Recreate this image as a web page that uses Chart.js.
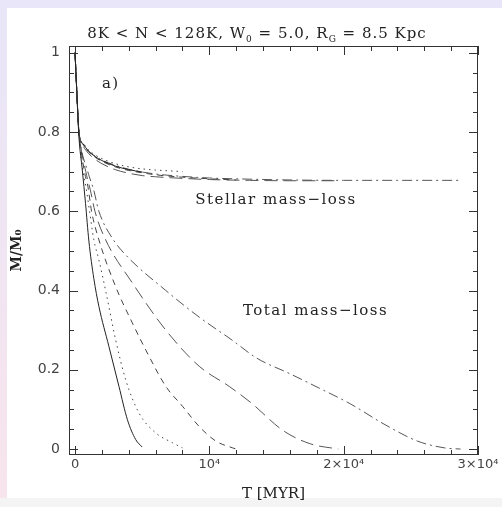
<!DOCTYPE html>
<html>
<head>
<meta charset="utf-8">
<script src="https://cdn.jsdelivr.net/npm/chart.js@4/dist/chart.umd.min.js"></script>
<style>
body { margin: 0; background: #fff; }
#wrap { position: relative; width: 502px; height: 507px; overflow: hidden; background: #fff; }
#stripTop { position: absolute; left: 0; top: 0; width: 502px; height: 8px; background: #e8e6f8; }
#stripLeft { position: absolute; left: 0; top: 0; width: 7px; height: 507px; background: linear-gradient(#e8e6f8, #f8e4ec); }
#stripBot { position: absolute; left: 0; top: 498px; width: 502px; height: 9px; background: #f4f4f4; }
canvas { position: absolute; left: 0; top: 0; }
</style>
</head>
<body>
<div id="wrap">
  <div id="stripTop"></div>
  <div id="stripLeft"></div>
  <div id="stripBot"></div>
  <canvas id="grafico" width="502" height="507"></canvas>
</div>
<script>
// total mass-loss (time in Myr, M/M0)
const tTotSolid = [0, 100, 200, 285, 540, 780, 1030, 1400, 1776, 2520, 3270, 3900, 4515, 5000];
const mTotSolid = [1, 0.925, 0.85, 0.79, 0.704, 0.62, 0.525, 0.43, 0.36, 0.259, 0.158, 0.074, 0.024, 0.005];
const tTotDotted = [0, 100, 200, 300, 600, 810, 1080, 1400, 1776, 2276, 3020, 3770, 4760, 6000, 7250, 8000];
const mTotDotted = [1, 0.925, 0.85, 0.795, 0.70, 0.662, 0.60, 0.528, 0.477, 0.40, 0.276, 0.175, 0.091, 0.041, 0.016, 0.003];
const tTotDashed = [0, 100, 200, 300, 700, 960, 1230, 1776, 3020, 4270, 5510, 6760, 8000, 9240, 10490, 11730, 12000];
const mTotDashed = [1, 0.925, 0.85, 0.8, 0.70, 0.662, 0.60, 0.528, 0.41, 0.318, 0.234, 0.158, 0.108, 0.057, 0.02, 0.003, 0];
const tTotLong = [0, 100, 200, 300, 800, 1130, 1480, 2276, 4270, 6760, 9240, 11480, 13060, 15520, 17540, 19600];
const mTotLong = [1, 0.925, 0.85, 0.8, 0.70, 0.655, 0.60, 0.528, 0.419, 0.30, 0.209, 0.158, 0.118, 0.046, 0.013, 0];
const tTotDashDot = [0, 100, 200, 300, 950, 1380, 1776, 2776, 3850, 6760, 9240, 11730, 13500, 16000, 18100, 20500, 23000, 25500, 27500, 28700];
const mTotDashDot = [1, 0.925, 0.85, 0.8, 0.70, 0.655, 0.60, 0.532, 0.487, 0.40, 0.333, 0.274, 0.23, 0.19, 0.155, 0.114, 0.063, 0.02, 0.003, 0];

// stellar mass-loss only
const tStarSolid = [0, 100, 200, 300, 600, 1000, 1500, 2000, 3000, 4000, 5000];
const mStarSolid = [1, 0.925, 0.85, 0.795, 0.77, 0.752, 0.738, 0.728, 0.714, 0.705, 0.699];
const tStarDotted = [0, 100, 200, 300, 600, 1000, 1500, 2000, 3000, 4000, 5000, 6000, 7000, 8000];
const mStarDotted = [1, 0.925, 0.85, 0.795, 0.772, 0.755, 0.742, 0.733, 0.72, 0.712, 0.707, 0.704, 0.702, 0.70];
const tStarDashed = [0, 100, 200, 300, 600, 1000, 1500, 2000, 3000, 4000, 5000, 6000, 8000, 10000, 12000];
const mStarDashed = [1, 0.925, 0.85, 0.795, 0.768, 0.75, 0.736, 0.726, 0.712, 0.703, 0.697, 0.692, 0.686, 0.682, 0.679];
const tStarLong = [0, 100, 200, 300, 600, 1000, 1500, 2000, 3000, 4000, 5000, 6000, 8000, 10000, 13000, 16000, 19600];
const mStarLong = [1, 0.925, 0.85, 0.795, 0.765, 0.746, 0.731, 0.72, 0.705, 0.696, 0.69, 0.687, 0.683, 0.68, 0.678, 0.677, 0.677];
const tStarDashDot = [0, 100, 200, 300, 600, 1000, 1500, 2000, 3000, 4000, 5000, 6000, 8000, 10000, 13000, 16000, 20000, 24000, 28700];
const mStarDashDot = [1, 0.925, 0.85, 0.795, 0.77, 0.752, 0.739, 0.729, 0.716, 0.706, 0.699, 0.694, 0.688, 0.684, 0.681, 0.679, 0.678, 0.678, 0.678];

const xTickValues = [0, 10000, 20000, 30000];
const xTickLabels = ["0", "10\u2074", "2\u00d710\u2074", "3\u00d710\u2074"];
const yTickValues = [0, 0.2, 0.4, 0.6, 0.8, 1];
const yTickLabels = ["0", "0.2", "0.4", "0.6", "0.8", "1"];

function pontos(t, m) {
    return t.map((v, i) => ({ x: v, y: m[i] }));
}

const tracos = [[], [1.5, 4], [6, 5], [13, 6], [10, 4, 2, 4]];
const cores = ["#222", "#444", "#444", "#555", "#555"];

const series = [
    [tTotSolid, mTotSolid, 0], [tTotDotted, mTotDotted, 1], [tTotDashed, mTotDashed, 2],
    [tTotLong, mTotLong, 3], [tTotDashDot, mTotDashDot, 4],
    [tStarSolid, mStarSolid, 0], [tStarDotted, mStarDotted, 1], [tStarDashed, mStarDashed, 2],
    [tStarLong, mStarLong, 3], [tStarDashDot, mStarDashDot, 4],
];

const datasets = series.map(([t, m, s]) => ({
    data: pontos(t, m),
    showLine: true,
    pointRadius: 0,
    borderWidth: 1,
    borderColor: cores[s],
    borderDash: tracos[s],
    cubicInterpolationMode: "monotone",
}));

const serif = "'DejaVu Serif', serif";

// frame + inward ticks on all four sides
const molduraPlugin = {
    id: "moldura",
    afterDraw(chart) {
        const { ctx, chartArea: a, scales: { x, y } } = chart;
        ctx.save();
        ctx.strokeStyle = "#333";
        ctx.lineWidth = 1;
        ctx.strokeRect(a.left + 0.5, a.top + 0.5, a.right - a.left - 1, a.bottom - a.top - 1);
        ctx.beginPath();
        for (let v = 0; v <= 30000; v += 2000) {
            const px = Math.round(x.getPixelForValue(v)) + 0.5;
            const len = v % 10000 === 0 ? 9 : 5;
            ctx.moveTo(px, a.bottom); ctx.lineTo(px, a.bottom - len);
            ctx.moveTo(px, a.top); ctx.lineTo(px, a.top + len);
        }
        for (let k = 0; k <= 20; k++) {
            const py = Math.round(y.getPixelForValue(k * 0.05)) + 0.5;
            const len = k % 4 === 0 ? 9 : 5;
            ctx.moveTo(a.left, py); ctx.lineTo(a.left + len, py);
            ctx.moveTo(a.right, py); ctx.lineTo(a.right - len, py);
        }
        ctx.stroke();
        ctx.restore();
    },
};

// title with subscripts and the text notes inside the plot
const textosPlugin = {
    id: "textos",
    afterDraw(chart) {
        const { ctx, scales: { x, y } } = chart;
        ctx.save();
        ctx.fillStyle = "#222";
        ctx.textBaseline = "alphabetic";
        ctx.letterSpacing = "1px";

        const partes = [
            ["8K < N < 128K, W", false], ["0", true], [" = 5.0, R", false], ["G", true], [" = 8.5 Kpc", false],
        ];
        const fN = "15px " + serif, fS = "9px " + serif;
        let largura = 0;
        partes.forEach(([s, sub]) => { ctx.font = sub ? fS : fN; largura += ctx.measureText(s).width; });
        let cx = 257 - largura / 2;
        partes.forEach(([s, sub]) => {
            ctx.font = sub ? fS : fN;
            ctx.fillText(s, cx, sub ? 42 : 38);
            cx += ctx.measureText(s).width;
        });

        ctx.font = "15px " + serif;
        ctx.letterSpacing = "1.5px";
        ctx.fillText("a)", x.getPixelForValue(2000), y.getPixelForValue(0.91));
        ctx.fillText("Stellar mass\u2212loss", x.getPixelForValue(8950), y.getPixelForValue(0.618));
        ctx.fillText("Total mass\u2212loss", x.getPixelForValue(12500), y.getPixelForValue(0.339));
        ctx.restore();
    },
};

new Chart(document.getElementById("grafico"), {
    type: "scatter",
    data: { datasets: datasets },
    plugins: [molduraPlugin, textosPlugin],
    options: {
        responsive: false,
        animation: false,
        layout: { padding: { left: 0, right: 24, top: 46, bottom: 0 } },
        plugins: { legend: { display: false }, tooltip: { enabled: false } },
        scales: {
            x: {
                type: "linear",
                min: -450,
                max: 30000,
                grid: { display: false, drawTicks: false },
                border: { display: false },
                afterBuildTicks: (s) => { s.ticks = xTickValues.map((v) => ({ value: v })); },
                afterFit: (s) => { s.height = 52; },
                ticks: {
                    padding: 2,
                    maxRotation: 0,
                    color: "#444",
                    font: { family: "'DejaVu Sans', sans-serif", size: 13 },
                    callback: (v) => xTickLabels[xTickValues.indexOf(v)],
                },
                title: {
                    display: true,
                    text: "T [MYR]",
                    color: "#222",
                    font: { family: serif, size: 15 },
                    padding: { top: 0, bottom: 4 },
                },
            },
            y: {
                type: "linear",
                min: -0.015,
                max: 1.017,
                grid: { display: false, drawTicks: false },
                border: { display: false },
                afterBuildTicks: (s) => { s.ticks = yTickValues.map((v) => ({ value: v })); },
                afterFit: (s) => { s.width = 69; },
                ticks: {
                    padding: 9,
                    color: "#444",
                    font: { family: "'DejaVu Sans', sans-serif", size: 14 },
                    callback: (v) => yTickLabels[yTickValues.indexOf(v)],
                },
                title: {
                    display: true,
                    text: "M/M\u2080",
                    color: "#222",
                    font: { family: serif, size: 14, weight: "bold" },
                    padding: { top: 9, bottom: 0 },
                },
            },
        },
    },
});
</script>
</body>
</html>
